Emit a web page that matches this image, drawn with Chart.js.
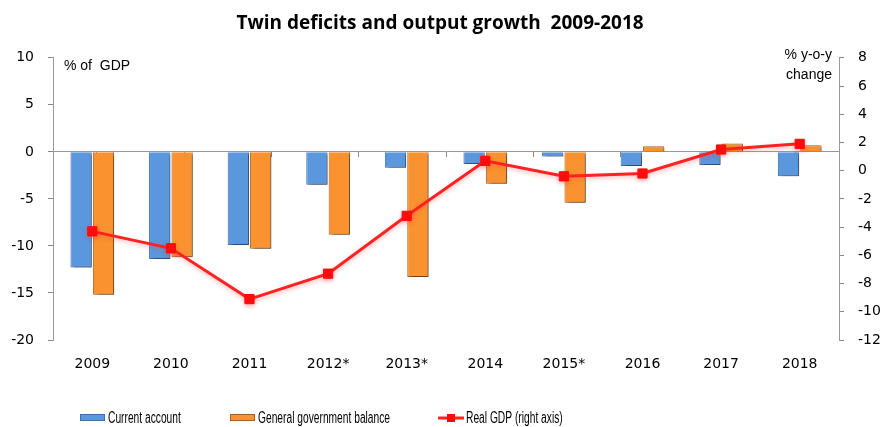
<!DOCTYPE html>
<html>
<head>
<meta charset="utf-8">
<script src="https://cdn.jsdelivr.net/npm/chart.js@4.4.1/dist/chart.umd.min.js"></script>
<style>
  html, body { margin: 0; padding: 0; background: #fff; }
  #wrap { width: 880px; height: 427px; }
</style>
</head>
<body>
<div id="wrap"><canvas id="chart"></canvas></div>
<script>
// data
var years = ['2009', '2010', '2011', '2012*', '2013*', '2014', '2015*', '2016', '2017', '2018'];
var current_account = [-12.3, -11.4, -9.9, -3.5, -1.7, -1.3, -0.5, -1.5, -1.4, -2.6];
var gov_balance     = [-15.2, -11.2, -10.3, -8.8, -13.3, -3.4, -5.4, 0.6, 0.9, 0.7];
var real_gdp        = [-4.3, -5.5, -9.1, -7.3, -3.2, 0.7, -0.4, -0.2, 1.5, 1.9];
var left_ticks  = { min: -20, max: 10, step: 5 };
var right_ticks = { min: -12, max: 8, step: 2 };

var tickFont = { family: 'DejaVu Sans', size: 14 };
var smallFont = '14px "Liberation Sans", sans-serif';
var legendFont = '16px "Liberation Sans", sans-serif';

// narrow text (the original uses a condensed face)
function narrowText(ctx, text, x, y, sx) {
  ctx.save();
  ctx.translate(x, y);
  ctx.scale(sx, 1);
  ctx.fillText(text, 0, 0);
  ctx.restore();
}

// bar shadows (the 3d look of the original)
var shadowPlugin = {
  id: 'shadow',
  beforeDatasetDraw: function(chart, args) {
    var ctx = chart.ctx;
    ctx.save();
    if (chart.data.datasets[args.index].type === 'line') {
      ctx.shadowColor = 'rgba(255,60,60,0.35)';
      ctx.shadowBlur = 4;
      ctx.shadowOffsetX = 0;
      ctx.shadowOffsetY = 2;
    } else {
      ctx.shadowColor = 'rgba(0,0,0,0.4)';
      ctx.shadowBlur = 3;
      ctx.shadowOffsetX = 3;
      ctx.shadowOffsetY = 2;
    }
  },
  afterDatasetDraw: function(chart) {
    chart.ctx.restore();
  }
};

// axis captions and the legend
var textPlugin = {
  id: 'texts',
  afterDraw: function(chart) {
    var ctx = chart.ctx;
    var area = chart.chartArea;
    ctx.save();
    ctx.fillStyle = '#000';
    ctx.font = smallFont;
    ctx.textBaseline = 'middle';
    ctx.textAlign = 'left';
    ctx.fillText('% of  GDP', area.left + 11, 66);
    ctx.textAlign = 'right';
    ctx.fillText('% y-o-y', area.right - 7, 55);
    ctx.fillText('change', area.right - 7, 75);

    // legend
    var ds = chart.data.datasets;
    var y = 418;
    var xs = [80, 230, 438];
    ctx.textAlign = 'left';
    ctx.font = legendFont;
    for (var i = 0; i < ds.length; i++) {
      var x = xs[i];
      if (ds[i].type === 'line') {
        ctx.strokeStyle = ds[i].borderColor;
        ctx.lineWidth = 3;
        ctx.beginPath();
        ctx.moveTo(x, y);
        ctx.lineTo(x + 26, y);
        ctx.stroke();
        ctx.fillStyle = ds[i].pointBackgroundColor;
        ctx.fillRect(x + 13 - 4, y - 4, 8, 8);
      } else {
        ctx.fillStyle = ds[i].backgroundColor;
        ctx.strokeStyle = ds[i].borderColor;
        ctx.lineWidth = 1;
        ctx.fillRect(x, y - 4, 25, 7);
        ctx.strokeRect(x + 0.5, y - 3.5, 24, 6);
      }
      ctx.fillStyle = '#000';
      narrowText(ctx, ds[i].label, x + 28, y + 1, 0.64);
    }
    ctx.restore();
  }
};

var config = {
  data: {
    labels: years,
    datasets: [
      {
        type: 'bar',
        label: 'Current account',
        data: current_account,
        backgroundColor: '#5b97dc',
        borderColor: '#3f6fae',
        borderWidth: 1,
        yAxisID: 'y',
        order: 1,
        categoryPercentage: 0.57,
        barPercentage: 0.95
      },
      {
        type: 'bar',
        label: 'General government balance',
        data: gov_balance,
        backgroundColor: '#f9922f',
        borderColor: '#a8601c',
        borderWidth: 1,
        yAxisID: 'y',
        order: 2,
        categoryPercentage: 0.57,
        barPercentage: 0.95
      },
      {
        type: 'line',
        label: 'Real GDP (right axis)',
        data: real_gdp,
        borderColor: '#ff2222',
        borderWidth: 3,
        pointStyle: 'rect',
        pointRadius: 6.5,
        pointBackgroundColor: '#ff0a0a',
        pointBorderColor: '#ff0a0a',
        pointBorderWidth: 1,
        tension: 0,
        yAxisID: 'y1',
        order: 0
      }
    ]
  },
  options: {
    responsive: false,
    animation: false,
    layout: { padding: { bottom: 47 } },
    plugins: {
      legend: { display: false },
      tooltip: { enabled: false },
      title: {
        display: true,
        text: 'Twin deficits and output growth  2009-2018',
        color: '#000',
        font: { family: 'Open Sans', size: 19, weight: 'bold' },
        padding: { top: 12, bottom: 23 }
      }
    },
    scales: {
      x: {
        type: 'category',
        position: 'bottom',
        grid: { display: false, drawTicks: false },
        border: { display: false },
        ticks: { color: '#000', font: tickFont, padding: 16, maxRotation: 0 },
        afterFit: function(scale) { scale.height = 40; }
      },
      x0: {
        type: 'category',
        position: { y: 0 },
        grid: { drawOnChartArea: false, tickLength: 5, color: '#888', offset: true },
        border: { display: true, color: '#999', width: 1 },
        ticks: { display: false }
      },
      y: {
        position: 'left',
        min: left_ticks.min,
        max: left_ticks.max,
        ticks: { stepSize: left_ticks.step, color: '#000', font: tickFont, padding: 14 },
        grid: { drawOnChartArea: false, tickLength: 5, color: '#888' },
        border: { display: true, color: '#999' },
        afterFit: function(scale) { scale.width = 53; }
      },
      y1: {
        position: 'right',
        min: right_ticks.min,
        max: right_ticks.max,
        ticks: { stepSize: right_ticks.step, color: '#000', font: tickFont, padding: 14 },
        grid: { drawOnChartArea: false, tickLength: 5, color: '#888' },
        border: { display: true, color: '#999' },
        afterFit: function(scale) { scale.width = 41; }
      }
    }
  },
  plugins: [shadowPlugin, textPlugin]
};

var canvas = document.getElementById('chart');
canvas.width = 880;
canvas.height = 427;
var myChart = new Chart(canvas.getContext('2d'), config);
</script>
</body>
</html>
